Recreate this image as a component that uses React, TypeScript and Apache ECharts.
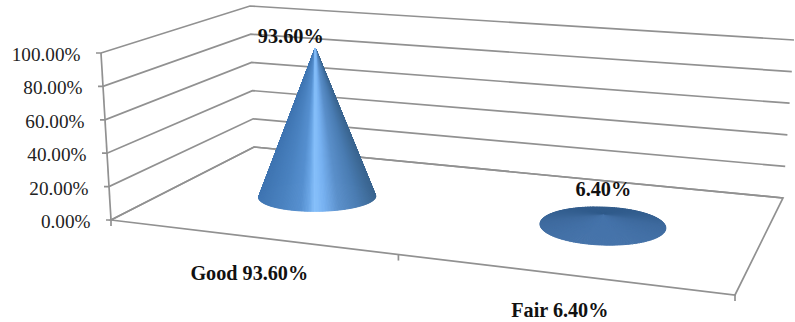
import React, { useEffect, useRef } from "react";
import * as echarts from "echarts";

const categories = ["Good 93.60%", "Fair 6.40%"];
const values = [0.936, 0.064];
const valueLabels = ["93.60%", "6.40%"];
const tickValues = [0, 0.2, 0.4, 0.6, 0.8, 1];
const tickLabels = ["0.00%", "20.00%", "40.00%", "60.00%", "80.00%", "100.00%"];

const WIDTH = 795;
const HEIGHT = 322;
const LINE = "#919191";
const LINE_WIDTH = 1.7;
const INK = "#111111";
const SERIF = "'Liberation Serif', 'Times New Roman', serif";

// Floor corners of the 3D box on screen, and the screen vector of a full-height wall there.
const floor = {
  frontLeft: [111, 220],
  frontRight: [735, 295],
  backRight: [783, 198],
  backLeft: [254, 147],
};
const rise = {
  frontLeft: [-10, -167],
  frontRight: [15, -190],
  backRight: [11, -158],
  backLeft: [-4, -141],
};

// Footprint of each cone and the placement of its value label relative to the apex.
const coneBase = [
  { rx: 58.5, ry: 14.5, tilt: -0.012, nudge: [0, 2.8] },
  { rx: 63, ry: 19, tilt: 0.035, nudge: [0.5, 1.5] },
];
const labelOffset = [
  [-24.5, -12],
  [0, -26],
];

// Projective map of the unit floor square: u runs along the categories, d runs into the depth.
function buildFloorMap() {
  const [x0, y0] = floor.frontLeft;
  const [x1, y1] = floor.frontRight;
  const [x2, y2] = floor.backRight;
  const [x3, y3] = floor.backLeft;
  const sx = x0 - x1 + x2 - x3;
  const sy = y0 - y1 + y2 - y3;
  const dx1 = x1 - x2;
  const dx2 = x3 - x2;
  const dy1 = y1 - y2;
  const dy2 = y3 - y2;
  const den = dx1 * dy2 - dx2 * dy1;
  const g = (sx * dy2 - dx2 * sy) / den;
  const h = (dx1 * sy - sx * dy1) / den;
  const a = x1 - x0 + g * x1;
  const b = x3 - x0 + h * x3;
  const d = y1 - y0 + g * y1;
  const e = y3 - y0 + h * y3;
  return (u: number, v: number) => {
    const w = g * u + h * v + 1;
    return [(a * u + b * v + x0) / w, (d * u + e * v + y0) / w];
  };
}
const floorPoint = buildFloorMap();

function riseAt(u: number, d: number) {
  const mix = (i: number) =>
    (1 - d) * ((1 - u) * rise.frontLeft[i] + u * rise.frontRight[i]) +
    d * ((1 - u) * rise.backLeft[i] + u * rise.backRight[i]);
  return [mix(0), mix(1)];
}

function wallPoint(corner: "frontLeft" | "backLeft" | "backRight", h: number) {
  return [floor[corner][0] + rise[corner][0] * h, floor[corner][1] + rise[corner][1] * h];
}

const hex = (s: string) => [1, 3, 5].map((i) => parseInt(s.slice(i, i + 2), 16));
function ramp(stops: [number, string][], t: number) {
  for (let i = 1; i < stops.length; i++) {
    if (t <= stops[i][0]) {
      const [t0, c0] = stops[i - 1];
      const [t1, c1] = stops[i];
      const k = (t - t0) / (t1 - t0);
      const a = hex(c0);
      const b = hex(c1);
      return `rgb(${a.map((v, j) => Math.round(v + (b[j] - v) * k)).join(",")})`;
    }
  }
  return stops[stops.length - 1][1];
}

// Shading across the visible side of a tall cone, left to right.
const sideShade: [number, string][] = [
  [0, "#3f75b2"],
  [0.2, "#4a82c0"],
  [0.36, "#5690d0"],
  [0.43, "#6aa6e6"],
  [0.48, "#86c0fb"],
  [0.56, "#76b0f0"],
  [0.68, "#5b90cb"],
  [0.85, "#4a7cb2"],
  [1, "#3a6590"],
];
// Shading of a nearly flat cone, back to front.
const flatShade: [number, string][] = [
  [0, "#2f5a8a"],
  [0.45, "#3e6a9e"],
  [1, "#4573aa"],
];

function renderWall(params: any, api: any) {
  const i = params.dataIndex;
  const cs = params.coordSys;
  const h = 1 - (api.coord([0, api.value(1)])[1] - cs.y) / cs.height;
  const f = wallPoint("frontLeft", h);
  const b = wallPoint("backLeft", h);
  const r = wallPoint("backRight", h);
  return {
    type: "group",
    children: [
      {
        type: "polyline",
        shape: { points: [[f[0] - 5, f[1]], f, b, r] },
        style: { stroke: LINE, lineWidth: LINE_WIDTH, fill: "none" },
      },
      {
        type: "text",
        style: {
          x: f[0] - 20.5,
          y: f[1] + 1.5,
          text: tickLabels[i],
          align: "right",
          verticalAlign: "middle",
          fontFamily: SERIF,
          fontSize: 19.2,
          fill: "#222222",
        },
      },
    ],
  };
}

function renderFloor() {
  const top = wallPoint("frontLeft", 1);
  const children: any[] = [
    {
      type: "polygon",
      shape: { points: [floor.frontLeft, floor.frontRight, floor.backRight, floor.backLeft] },
      style: { stroke: LINE, lineWidth: LINE_WIDTH, fill: "none" },
    },
    {
      type: "line",
      shape: { x1: top[0], y1: top[1], x2: floor.frontLeft[0], y2: floor.frontLeft[1] },
      style: { stroke: LINE, lineWidth: LINE_WIDTH },
    },
  ];
  for (let k = 0; k <= categories.length; k++) {
    const p = floorPoint(k / categories.length, 0);
    children.push({
      type: "line",
      shape: { x1: p[0], y1: p[1], x2: p[0], y2: p[1] + 6 },
      style: { stroke: LINE, lineWidth: LINE_WIDTH },
    });
  }
  return { type: "group", children };
}

function renderCone(params: any, api: any) {
  const i = params.dataIndex;
  const cs = params.coordSys;
  const at = api.coord([i, api.value(1)]);
  const u = (at[0] - cs.x) / cs.width;
  const value = 1 - (at[1] - cs.y) / cs.height;
  const { rx, ry, tilt, nudge } = coneBase[i];
  const foot = floorPoint(u, 0.5);
  const c = [foot[0] + nudge[0], foot[1] + nudge[1]];
  const up = riseAt(u, 0.5);
  const apex = [c[0] + up[0] * value, c[1] + up[1] * value];
  const rim = (t: number) => {
    const ex = rx * Math.cos(t);
    const ey = ry * Math.sin(t);
    return [c[0] + ex * Math.cos(tilt) - ey * Math.sin(tilt), c[1] + ex * Math.sin(tilt) + ey * Math.cos(tilt)];
  };
  const flat = c[1] - apex[1] < ry;
  const N = 240;
  const slices: { depth: number; el: any }[] = [];
  for (let k = 0; k < N; k++) {
    const t0 = (k / N) * Math.PI * 2;
    const t1 = ((k + 1) / N) * Math.PI * 2;
    const mid = (t0 + t1) / 2;
    const fill = flat
      ? ramp(flatShade, (Math.sin(mid) + 1) / 2)
      : ramp(sideShade, (Math.cos(mid) + 1) / 2);
    slices.push({
      depth: Math.sin(mid),
      el: {
        type: "polygon",
        shape: { points: [apex, rim(t0), rim(t1)] },
        style: { fill, stroke: fill, lineWidth: 1 },
      },
    });
  }
  slices.sort((a, b) => a.depth - b.depth);
  return {
    type: "group",
    children: [
      ...slices.map((s) => s.el),
      {
        type: "text",
        style: {
          x: apex[0] + labelOffset[i][0],
          y: apex[1] + labelOffset[i][1],
          text: valueLabels[i],
          align: "center",
          verticalAlign: "middle",
          fontFamily: SERIF,
          fontSize: 20.3,
          fontWeight: "bold",
          fill: INK,
        },
      },
    ],
  };
}

function renderCategory(params: any, api: any) {
  const i = params.dataIndex;
  const cs = params.coordSys;
  const u = (api.coord([i, 0])[0] - cs.x) / cs.width;
  const p = floorPoint(u, 0);
  return {
    type: "text",
    style: {
      x: p[0],
      y: p[1] + 36.5,
      text: categories[i],
      align: "center",
      verticalAlign: "middle",
      fontFamily: SERIF,
      fontSize: 20.2,
      fontWeight: "bold",
      fill: INK,
    },
  };
}

export default function App() {
  const ref = useRef<HTMLDivElement>(null);
  useEffect(() => {
    const chart = echarts.init(ref.current!, undefined, { renderer: "svg" });
    chart.setOption({
      animation: false,
      backgroundColor: "#ffffff",
      grid: { left: 111, right: 60, top: 53, bottom: 102 },
      xAxis: { type: "category", data: categories, show: false },
      yAxis: { type: "value", min: 0, max: 1, interval: 0.2, show: false },
      series: [
        {
          type: "custom",
          renderItem: renderWall,
          data: tickValues.map((v) => [0, v]),
          silent: true,
        },
        { type: "custom", renderItem: renderFloor, data: [[0, 0]], silent: true },
        {
          type: "custom",
          renderItem: renderCone,
          data: values.map((v, i) => [i, v]),
          silent: true,
        },
        {
          type: "custom",
          renderItem: renderCategory,
          data: categories.map((_, i) => [i, 0]),
          silent: true,
        },
      ],
    });
    return () => chart.dispose();
  }, []);
  return (
    <div
      ref={ref}
      style={{ position: "absolute", left: 0, top: 0, width: WIDTH, height: HEIGHT }}
    />
  );
}
